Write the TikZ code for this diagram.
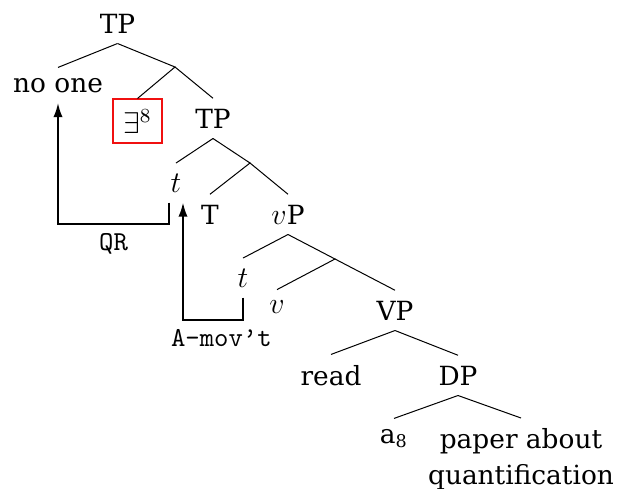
\documentclass[tikz,border=0pt,12pt]{standalone}
\usepackage{fontspec}
\setmainfont[Scale=0.88]{DejaVu Serif}
\usetikzlibrary{arrows.meta,calc}
\definecolor{boxred}{HTML}{F01010}

\begin{document}
\begin{tikzpicture}[x=0.4pt,y=-0.4pt,
  cat/.style={anchor=base,inner sep=4pt},
  qbox/.style={draw=boxred,line width=0.6pt,anchor=base,inner sep=4pt},
  mov/.style={thick,-{Latex[length=2mm,width=1.3mm]}},
  movlabel/.style={font=\small\ttfamily}]
  \useasboundingbox (0,0) rectangle (626,488);
  % labels, set on their baselines
  \node[cat] (tp) at (117.5,33) {TP};
  \node[cat] (noone) at (58,92) {no one};
  \coordinate (bar1) at (175,67);
  \node[qbox] (ex) at (137.5,133) {$\exists^{8}$};
  \node[cat] (tpb) at (213,128) {TP};
  \node[cat] (t) at (176,192) {$t$};
  \coordinate (bar2) at (250,163);
  \node[cat] (tt) at (210,224) {T};
  \node[cat] (vp) at (288,224) {$v$P};
  \node[cat] (t2) at (243,287) {$t$};
  \coordinate (bar3) at (335,259);
  \node[cat] (v) at (277,313) {$v$};
  \node[cat] (vpb) at (395,320) {VP};
  \node[cat] (read) at (331,385) {read};
  \node[cat] (dp) at (458,385) {DP};
  \node[cat] (a) at (394,443) {a\textsubscript{8}};
  \node[anchor=north,align=center,inner sep=4pt]
    (paper) at (521,418) {paper about\\quantification};
  % branches
  \draw (tp.south) -- (noone.north);
  \draw (tp.south) -- (bar1) -- (ex.north);
  \draw (bar1) -- (tpb.north);
  \draw (tpb.south) -- (t.north);
  \draw (tpb.south) -- (bar2) -- (tt.north);
  \draw (bar2) -- (vp.north);
  \draw (vp.south) -- (t2.north);
  \draw (vp.south) -- (bar3) -- (v.north);
  \draw (bar3) -- (vpb.north);
  \draw (vpb.south) -- (read.north);
  \draw (vpb.south) -- (dp.north);
  \draw (dp.south) -- (a.north);
  \draw (dp.south) -- (paper.north);
  % movement
  \draw[mov] ($(t.south)+(-7,0)$) -- ++(0,21)
    -| node[pos=0.25,below,movlabel] {QR} (noone.south);
  \draw[mov] (t2.south) -- ++(0,22)
    -| node[pos=0.18,below,movlabel] {A-mov’t} ($(t.south)+(7,0)$);
\end{tikzpicture}
\end{document}
